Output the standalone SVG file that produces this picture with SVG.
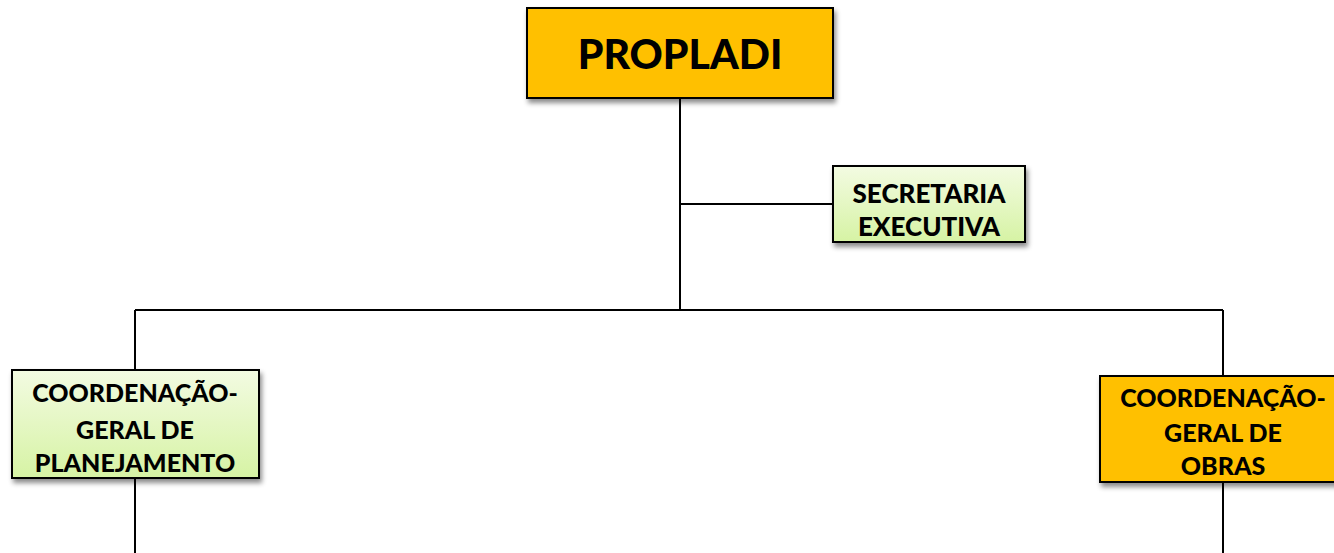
<svg xmlns="http://www.w3.org/2000/svg" width="1334" height="553" viewBox="0 0 1334 553">
<defs>
<linearGradient id="green" x1="0" y1="0" x2="0" y2="1">
<stop offset="0" stop-color="#F3FBE2"/>
<stop offset="1" stop-color="#D6F3A4"/>
</linearGradient>
<filter id="sh" x="-10%" y="-10%" width="130%" height="140%">
<feDropShadow dx="2" dy="4" stdDeviation="2.5" flood-color="#000" flood-opacity="0.45"/>
</filter>
<style>
.box{stroke:#000;stroke-width:2;filter:url(#sh)}
.orange{fill:#FFC000}
.green{fill:url(#green)}
.t{font-family:Lato,"Liberation Sans",sans-serif;font-weight:900;fill:#000;text-anchor:middle}
.s{font-size:25px}
.s2{font-size:26px}
.big{font-size:41px}
.ln{stroke:#000;stroke-width:2;fill:none}
</style>
</defs>
<g id="connectors">
<path class="ln" d="M680 98 V310 M680 204 H833 M135 310 H1223 M135 310 V370 M135 478 V553 M1223 310 V376 M1223 482 V553"/>
</g>
<g id="propladi">
<rect class="box orange" x="527" y="8" width="306" height="90"/>
<text class="t big" x="680" y="69">PROPLADI</text>
</g>
<g id="secretaria">
<rect class="box green" x="833" y="166" width="192" height="76"/>
<text class="t s2" x="929" y="203">SECRETARIA</text>
<text class="t s2" x="929" y="236">EXECUTIVA</text>
</g>
<g id="cg-planejamento">
<rect class="box green" x="12" y="370" width="247" height="108"/>
<text class="t s" x="135" y="402">COORDENAÇÃO-</text>
<text class="t s" x="135" y="439">GERAL DE</text>
<text class="t s" x="135" y="472">PLANEJAMENTO</text>
</g>
<g id="cg-obras">
<rect class="box orange" x="1100" y="376" width="246" height="106"/>
<text class="t s" x="1223" y="407">COORDENAÇÃO-</text>
<text class="t s" x="1223" y="442">GERAL DE</text>
<text class="t s" x="1223" y="475">OBRAS</text>
</g>
</svg>
